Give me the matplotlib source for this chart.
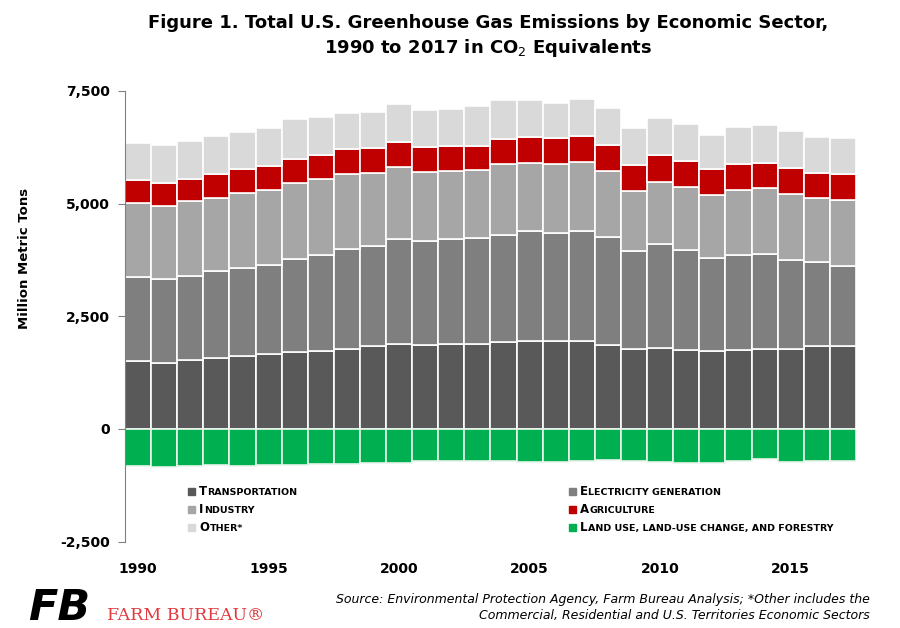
import numpy as np
import matplotlib
matplotlib.use("Agg")
import matplotlib.pyplot as plt
from matplotlib.patches import Rectangle

# data (million metric tons CO2 eq.)
years = list(range(1990, 2018))
transportation = [1505, 1468, 1520, 1579, 1623, 1653, 1712, 1727, 1764, 1838,
                  1875, 1853, 1890, 1890, 1927, 1950, 1942, 1950, 1853, 1764,
                  1786, 1749, 1727, 1749, 1779, 1779, 1831, 1846]
electricity = [1875, 1853, 1875, 1935, 1957, 1994, 2054, 2143, 2224, 2232,
               2350, 2313, 2321, 2350, 2387, 2446, 2395, 2453, 2402, 2194,
               2313, 2217, 2061, 2106, 2106, 1972, 1868, 1779]
industry = [1639, 1616, 1661, 1608, 1646, 1653, 1690, 1682, 1661, 1617,
            1579, 1527, 1519, 1505, 1557, 1512, 1549, 1520, 1468, 1327,
            1386, 1394, 1401, 1445, 1460, 1453, 1416, 1460]
agriculture = [504, 512, 496, 541, 541, 541, 534, 534, 563, 549,
               556, 556, 556, 541, 563, 563, 571, 585, 585, 578,
               601, 593, 578, 578, 548, 578, 571, 564]
other = [822, 845, 838, 838, 830, 845, 882, 845, 793, 808,
         845, 823, 823, 882, 860, 823, 771, 823, 823, 816,
         823, 808, 764, 831, 853, 838, 801, 808]
land_use = [-815, -838, -815, -800, -815, -793, -793, -778, -778, -749,
            -764, -719, -704, -719, -704, -741, -726, -704, -689, -704,
            -726, -764, -764, -719, -675, -726, -719, -719]

sector_names = ["Transportation", "Electricity generation", "Industry",
                "Agriculture", "Other*", "Land use, land-use change, and forestry"]
sector_colors = ["#595959", "#7f7f7f", "#a6a6a6", "#c00000", "#d9d9d9", "#00b050"]
tick_years = [1990, 1995, 2000, 2005, 2010, 2015]

W, H = 900, 628
fig = plt.figure(figsize=(W / 100, H / 100), dpi=100)
ax = fig.add_axes([125 / W, (H - 541.5) / H, 731 / W, 450.5 / H])

x = np.arange(len(years))
bottom = np.zeros(len(years))
stack = [transportation, electricity, industry, agriculture, other]
stack_colors = [sector_colors[0], sector_colors[1], sector_colors[2],
                sector_colors[3], sector_colors[4]]
for vals, col in zip(stack, stack_colors):
    ax.bar(x, vals, width=1.0, bottom=bottom, color=col,
           edgecolor="white", linewidth=1.2)
    bottom += np.array(vals)
ax.bar(x, land_use, width=1.0, color=sector_colors[5],
       edgecolor="#e8f5ec", linewidth=1.2)

ax.set_xlim(-0.5, len(years) - 0.5)
ax.set_ylim(-2500, 7500)
ax.set_yticks([-2500, 0, 2500, 5000, 7500])
ax.set_yticklabels(["-2,500", "0", "2,500", "5,000", "7,500"],
                   fontsize=10, fontweight="bold")
ax.set_xticks([years.index(y) for y in tick_years])
ax.set_xticklabels([str(y) for y in tick_years], fontsize=10, fontweight="bold")
ax.tick_params(axis="x", length=0, pad=15)
ax.tick_params(axis="y", length=5, color="#808080", pad=6)
for s in ["top", "right", "bottom"]:
    ax.spines[s].set_visible(False)
ax.spines["left"].set_color("#808080")

# title
fig.text(488 / W, 1 - 23 / H,
         "Figure 1. Total U.S. Greenhouse Gas Emissions by Economic Sector,",
         ha="center", va="center", fontsize=13, fontweight="bold")
fig.text(488 / W, 1 - 48 / H, "1990 to 2017 in CO$_2$ Equivalents",
         ha="center", va="center", fontsize=13, fontweight="bold")

# y label
fig.text(25 / W, 1 - 258 / H, "Million Metric Tons", rotation=90,
         ha="center", va="center", fontsize=9.5, fontweight="bold")

# legend drawn by hand to mimic small caps
renderer = fig.canvas.get_renderer()
legend_pos = [(188, 491), (569, 491), (188, 509), (569, 509), (188, 527), (569, 527)]
legend_order = [0, 1, 2, 3, 4, 5]
for (px, py), i in zip(legend_pos, legend_order):
    fig.patches.append(Rectangle((px / W, 1 - (py + 3.5) / H), 7 / W, 7 / H,
                                 transform=fig.transFigure,
                                 color=sector_colors[i]))
    name = sector_names[i]
    t = fig.text((px + 11) / W, 1 - (py + 4) / H, name[0], fontsize=8.5,
                 fontweight="bold", ha="left", va="baseline")
    bb = t.get_window_extent(renderer)
    fig.text(bb.x1 / W + 0.5 / W, 1 - (py + 4) / H, name[1:].upper(),
             fontsize=6.8, fontweight="bold", ha="left", va="baseline")

# source note
fig.text(870 / W, 1 - 600 / H,
         "Source: Environmental Protection Agency, Farm Bureau Analysis; *Other includes the",
         ha="right", va="center", fontsize=9.0, style="italic")
fig.text(870 / W, 1 - 616 / H,
         "Commercial, Residential and U.S. Territories Economic Sectors",
         ha="right", va="center", fontsize=9.0, style="italic")

# logo
fig.text(28 / W, 1 - 608 / H, "FB", fontsize=31, fontweight="heavy",
         style="italic", ha="left", va="center", color="black")
fig.text(107 / W, 1 - 616 / H, "FARM BUREAU\u00ae", fontsize=12.5,
         family="DejaVu Serif", ha="left", va="center", color="#e03a3e")

fig.savefig("out.png", dpi=100)
